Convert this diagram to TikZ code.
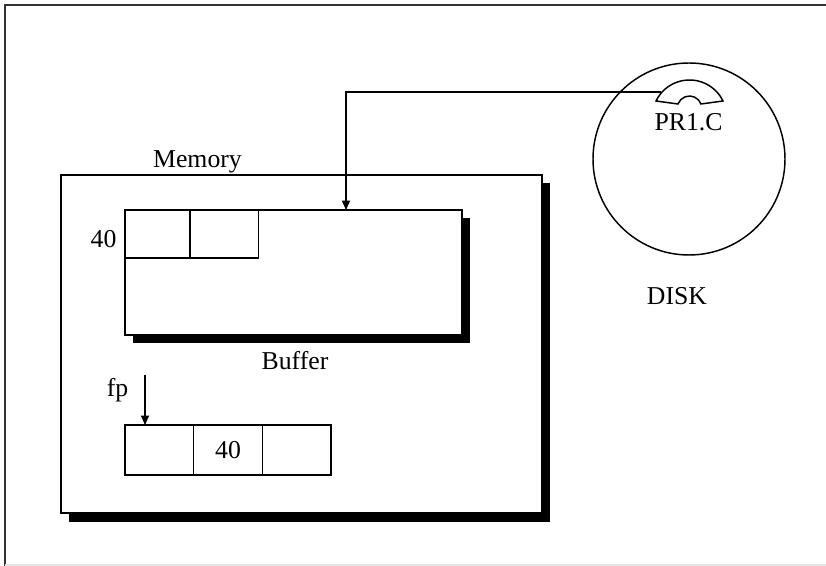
\documentclass[tikz,border=0pt]{standalone}
\usepackage{fontspec}
\setmainfont{Liberation Serif}
\usetikzlibrary{arrows.meta,positioning,calc}
\tikzset{
  box/.style={draw,line width=1.1pt,fill=white,inner sep=0pt,outer sep=0pt},
  cell/.style={draw,line width=1.1pt,inner sep=0pt,outer sep=0pt,minimum width=51.5pt,minimum height=37.5pt},
  lbl/.style={font=\fontsize{19.3}{23}\selectfont,inner sep=0pt,anchor=base},
  ptr/.style={line width=1.1pt,-{Triangle[length=7pt,width=6pt]}}
}
\begin{document}
\begin{tikzpicture}[x=0.75pt,y=-0.75pt]
  \useasboundingbox (0,0) rectangle (826,566);
  \draw[line width=1.2pt,black!80] (5,566) -- (5,5) -- (826,5);
  \draw[line width=0.8pt,black!10] (5,565) -- (826,565);
  \fill (69,183) rectangle (550,522);
  \node[box,anchor=north west,minimum width=360.75pt,minimum height=253.5pt] (memory) at (61,175) {};
  \node[lbl] (memlbl) at (197.5,168) {Memory};
  \fill (133,218) rectangle (470,343);
  \node[box,anchor=north west,minimum width=252.75pt,minimum height=93.75pt] (buffer) at (125,210) {};
  \node[cell,anchor=north west,minimum width=48.75pt,minimum height=36pt] (b1) at (buffer.north west) {};
  \node[cell,right=0pt of b1,minimum height=36pt] (b2) {};
  \node[lbl] (val1) at (103.5,248) {40};
  \node[lbl] (buflbl) at (295,370) {Buffer};
  \node[cell,anchor=north west] (c1) at (125,425) {};
  \node[cell,right=0pt of c1,font=\fontsize{19.3}{23}\selectfont] (c2) {40};
  \node[cell,right=0pt of c2] (c3) {};
  \node[lbl] (fplbl) at (117.5,397) {fp};
  \coordinate (fptop) at (145,375);
  \draw[ptr] (fptop) -- (fptop |- c1.north);
  \node[draw,circle,line width=1.1pt,minimum size=144pt,inner sep=0pt] (disk) at (689,159) {};
  \draw[line width=1.1pt,fill=white] (656,101) arc[start angle=-154.2,end angle=-25.8,radius=37.2]
    -- (701,104) arc[start angle=-20.5,end angle=-159.5,radius=12.3] -- cycle;
  \coordinate (head) at (661,92);
  \coordinate (bufin) at (346,210);
  \draw[ptr] (head) -| (bufin);
  \node[lbl] (file) at (688.5,131) {PR1.C};
  \node[lbl] (disklbl) at (677,305) {DISK};
\end{tikzpicture}
\end{document}
